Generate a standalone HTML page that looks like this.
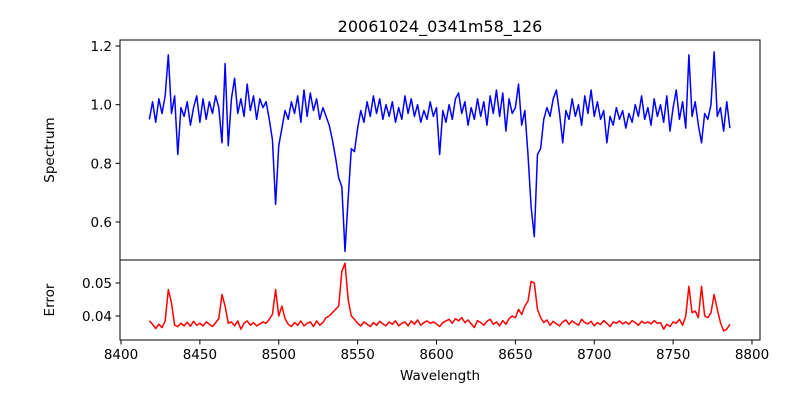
<!DOCTYPE html>
<html><head><meta charset="utf-8"><style>
body{margin:0;background:#fff;}
svg{display:block;font-family:"DejaVu Sans","Liberation Sans",sans-serif;}
</style></head><body>
<svg id="chart" width="800" height="400" viewBox="0 0 800 400" xmlns="http://www.w3.org/2000/svg">
<rect width="800" height="400" fill="#fff"/>
<text x="440" y="32" text-anchor="middle" font-size="16">20061024_0341m58_126</text>
<text x="54" y="150" text-anchor="middle" font-size="13.5" transform="rotate(-90 54 150)">Spectrum</text>
<text x="54" y="300" text-anchor="middle" font-size="13.5" transform="rotate(-90 54 300)">Error</text>
<text x="440" y="380" text-anchor="middle" font-size="13.5">Wavelength</text>
<g id="g"></g>
</svg>
<script>
const wlStart = 8418, wlStep = 2;
const spectrum = [0.95,1.01,0.94,1.02,0.97,1.03,1.17,0.97,1.03,0.83,
0.99,0.96,1.01,0.93,0.99,1.03,0.94,1.02,0.95,1.01,
0.97,1.03,0.99,0.87,1.14,0.86,1.02,1.09,0.97,1.02,
0.96,1.07,0.98,1.03,0.95,1.02,0.99,1.01,0.95,0.88,
0.66,0.86,0.92,0.98,0.95,1.01,0.97,1.03,0.94,1.05,
0.96,1.04,0.98,1.02,0.95,0.99,0.96,0.93,0.88,0.82,
0.75,0.72,0.50,0.68,0.85,0.84,0.92,0.98,0.94,1.01,
0.96,1.03,0.97,1.02,0.95,1.00,0.96,1.01,0.94,0.99,
0.95,1.03,0.97,1.02,0.96,1.00,0.94,0.98,0.95,1.01,
0.96,0.99,0.83,0.98,0.94,1.00,0.95,1.02,1.04,0.97,
1.01,0.93,0.99,0.95,1.02,0.96,1.01,0.93,1.03,0.97,
1.05,0.96,1.04,0.91,1.02,0.97,0.99,1.07,0.93,0.98,
0.83,0.65,0.55,0.83,0.85,0.95,0.99,0.96,1.02,1.05,
0.97,0.87,0.98,0.95,1.02,0.96,1.00,0.93,1.03,0.97,
1.05,0.96,1.01,0.95,0.98,0.87,0.96,0.93,0.99,0.95,
0.98,0.92,0.97,0.94,1.00,0.96,1.03,0.95,0.99,0.93,
1.02,0.96,1.00,0.94,1.03,0.91,0.99,1.05,0.95,1.01,
0.92,1.17,0.96,1.01,0.93,0.87,0.97,0.95,1.00,1.18,
0.96,0.99,0.91,1.01,0.92];
const errors = [.0385,.0375,.0362,.0375,.0365,.0385,.0480,.0440,.0372,.0368,
.0378,.0370,.0381,.0369,.0384,.0372,.0378,.0370,.0382,.0375,
.0368,.0380,.0392,.0465,.0430,.0378,.0382,.0370,.0385,.0360,
.0378,.0385,.0372,.0380,.0370,.0376,.0382,.0378,.0390,.0405,
.0480,.0400,.0430,.0392,.0375,.0368,.0380,.0372,.0385,.0370,
.0378,.0382,.0368,.0385,.0372,.0380,.0395,.0400,.0410,.0420,
.0430,.0535,.0560,.0450,.0400,.0390,.0378,.0370,.0382,.0375,
.0368,.0380,.0372,.0384,.0376,.0370,.0382,.0375,.0385,.0370,
.0378,.0382,.0370,.0385,.0375,.0388,.0372,.0380,.0385,.0378,
.0382,.0376,.0368,.0380,.0385,.0390,.0378,.0392,.0385,.0395,
.0380,.0388,.0376,.0365,.0386,.0380,.0372,.0384,.0390,.0375,
.0382,.0370,.0386,.0375,.0392,.0400,.0395,.0420,.0405,.0430,
.0445,.0505,.0500,.0420,.0395,.0380,.0388,.0372,.0384,.0376,
.0370,.0382,.0388,.0375,.0385,.0378,.0372,.0390,.0380,.0376,
.0384,.0370,.0380,.0374,.0386,.0378,.0368,.0382,.0378,.0385,
.0376,.0382,.0375,.0386,.0380,.0372,.0384,.0378,.0382,.0376,
.0386,.0378,.0380,.0360,.0375,.0368,.0382,.0378,.0390,.0372,
.0400,.0490,.0410,.0415,.0395,.0490,.0400,.0395,.0410,.0465,
.0420,.0380,.0355,.0360,.0375];
const xTicks = [8400,8450,8500,8550,8600,8650,8700,8750,8800];
const ySpecTicks = [0.6,0.8,1.0,1.2];
const yErrTicks = [0.04,0.05];

const NS='http://www.w3.org/2000/svg';
const g=document.getElementById('g');
const X=w=>121+(w-8400)*1.5775;
const YS=v=>222-(v-0.6)*293.3;
const YE=v=>283-(v-0.05)*3300;
function mk(t,a){const e=document.createElementNS(NS,t);for(const k in a)e.setAttribute(k,a[k]);g.appendChild(e);return e;}

function line(vals,yf,color,name){
  let d='';
  vals.forEach((v,i)=>{d+=(i?'L':'M')+X(wlStart+i*wlStep).toFixed(2)+','+yf(v).toFixed(2);});
  const p=mk('path',{d:d,fill:'none',stroke:color,'stroke-width':1.5,'stroke-linejoin':'round'});
  
  
}
line(spectrum,YS,'#0000ff','spectrum-line');
line(errors,YE,'#ff0000','error-line');

const f1=mk('rect',{x:120,y:40,width:640,height:220,fill:'none',stroke:'#000','stroke-width':1});


const f2=mk('rect',{x:120,y:260,width:640,height:80,fill:'none',stroke:'#000','stroke-width':1});



xTicks.forEach(t=>{
  const x=X(t);
  mk('line',{x1:x,x2:x,y1:340,y2:344.5,stroke:'#000'});
  const tx=mk('text',{x:x,y:359,'text-anchor':'middle','font-size':13.5});
  tx.textContent=t;
  
  
});
ySpecTicks.forEach(t=>{
  const y=YS(t);
  mk('line',{x1:115.5,x2:120,y1:y,y2:y,stroke:'#000'});
  const tx=mk('text',{x:112,y:y+5,'text-anchor':'end','font-size':13.5});
  tx.textContent=t.toFixed(1);
  
  
});
yErrTicks.forEach(t=>{
  const y=YE(t);
  mk('line',{x1:115.5,x2:120,y1:y,y2:y,stroke:'#000'});
  const tx=mk('text',{x:112,y:y+5,'text-anchor':'end','font-size':13.5});
  tx.textContent=t.toFixed(2);
  
  
});
</script>
</body></html>
